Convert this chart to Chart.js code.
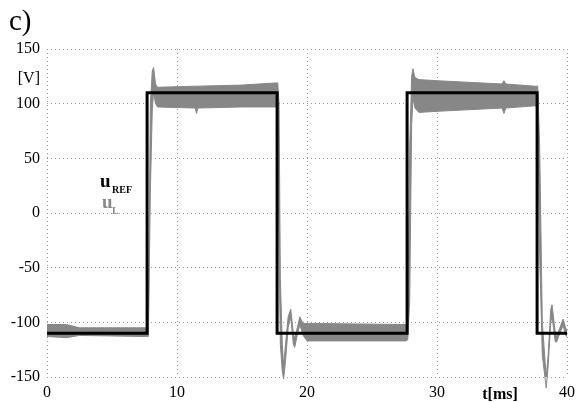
<!DOCTYPE html>
<html>
<head>
<meta charset="utf-8">
<script src="https://cdn.jsdelivr.net/npm/chart.js@4"></script>
<style>
    body { margin: 0; background: #fff; }
    #wrap { width: 583px; height: 402px; position: relative; }
</style>
</head>
<body>
<div id="wrap"><canvas id="scopeChart"></canvas></div>
<script>
// Reference voltage u_REF (square wave, V) vs time (ms)
const refTime  = [0, 7.7, 7.7, 17.7, 17.7, 27.7, 27.7, 37.7, 37.7, 40];
const refValue = [-110, -110, 110, 110, -110, -110, 110, 110, -110, -110];

// Measured voltage u_L, drawn as a noise band: upper and lower envelope (V)
const uLTime  = [0, 1.5, 2.5, 7.6, 7.75, 7.8, 7.95, 8.1, 8.2, 8.35, 8.5, 11.4, 11.5, 11.6, 15, 17.6,
                 17.75, 17.85, 17.95, 18.1, 18.2, 18.35, 18.55, 18.75, 18.95, 19.05, 19.25, 19.45, 19.7, 20,
                 27.6, 27.75, 27.9, 28.05, 28.15, 28.3, 28.6, 30, 35, 35.15, 35.3, 37.5,
                 37.75, 37.9, 38.1, 38.4, 38.55, 38.75, 38.85, 39.1, 39.2, 39.45, 39.7, 39.9, 40];
const uLUpper = [-102, -102, -105, -105, -104, -100, 100, 130, 133, 118, 115, 116, 116, 116, 117, 119,
                 119, 100, -60, -120, -140, -120, -95, -88, -110, -115, -105, -95, -101, -101,
                 -102, -102, 60, 125, 132, 124, 122, 121, 118, 121, 118, 116,
                 116, 60, -100, -150, -130, -88, -84, -110, -113, -105, -97, -105, -108];
const uLLower = [-113, -114, -112, -113, -113, -113, 20, 95, 110, 100, 97, 96, 91, 96, 97, 97,
                 95, -30, -120, -145, -152, -135, -105, -95, -120, -123, -112, -102, -112, -117,
                 -117, -116, -80, 80, 105, 96, 92, 93, 96, 91, 96, 98,
                 97, -40, -130, -160, -140, -100, -95, -118, -118, -110, -103, -112, -113];

const xTicks = [0, 10, 20, 30, 40];
const yTicks = [-150, -100, -50, 0, 50, 100, 150];

const SERIF = '"Liberation Serif", "DejaVu Serif", serif';
const GRAY = '#878787';

function toPoints(xs, ys) {
    return xs.map((x, i) => ({ x: x, y: ys[i] }));
}

// Texts that are not part of the axes: panel letter, units, legend
const annotations = {
    id: 'annotations',
    afterDraw(chart) {
        const ctx = chart.ctx;
        ctx.save();
        ctx.textBaseline = 'alphabetic';
        ctx.fillStyle = '#000';

        ctx.textAlign = 'left';
        ctx.font = '29px ' + SERIF;
        ctx.fillText('c)', 9, 30);

        ctx.textAlign = 'right';
        ctx.font = '16px ' + SERIF;
        ctx.fillText('[V]', 40, 83);

        ctx.textAlign = 'center';
        ctx.font = 'bold 16px ' + SERIF;
        ctx.fillText('t[ms]', 500, 399);

        ctx.textAlign = 'left';
        ctx.font = 'bold 19px ' + SERIF;
        ctx.fillText('u', 100, 187);
        ctx.font = 'bold 10px ' + SERIF;
        ctx.fillText('REF', 112, 193);

        ctx.fillStyle = GRAY;
        ctx.font = 'bold 19px ' + SERIF;
        ctx.fillText('u', 102, 208);
        ctx.font = 'bold 10px ' + SERIF;
        ctx.fillText('L', 112, 214);
        ctx.restore();
    }
};

const gridStyle = {
    color: '#999999',
    lineWidth: 1,
    drawTicks: false
};

new Chart(document.getElementById('scopeChart'), {
    type: 'scatter',
    data: {
        datasets: [
            {
                label: 'uL upper',
                data: toPoints(uLTime, uLUpper),
                showLine: true,
                borderColor: GRAY,
                borderWidth: 1,
                pointRadius: 0,
                tension: 0,
                fill: false,
                clip: false,
                order: 2
            },
            {
                label: 'uL lower',
                data: toPoints(uLTime, uLLower),
                showLine: true,
                borderColor: GRAY,
                backgroundColor: GRAY,
                borderWidth: 1,
                pointRadius: 0,
                tension: 0,
                fill: '-1',
                clip: false,
                order: 1
            },
            {
                label: 'uREF',
                data: toPoints(refTime, refValue),
                showLine: true,
                borderColor: '#000',
                borderWidth: 3,
                pointRadius: 0,
                tension: 0,
                fill: false,
                order: 0
            }
        ]
    },
    options: {
        responsive: true,
        maintainAspectRatio: false,
        animation: false,
        layout: { padding: { top: 49, right: 16, left: 0, bottom: 0 } },
        plugins: {
            legend: { display: false },
            tooltip: { enabled: false }
        },
        scales: {
            x: {
                type: 'linear',
                min: 0,
                max: 40,
                afterBuildTicks: s => { s.ticks = xTicks.map(v => ({ value: v })); },
                afterFit: s => { s.height = 25; },
                border: { display: false, dash: [1, 3] },
                grid: gridStyle,
                ticks: {
                    color: '#000',
                    padding: 6,
                    font: { family: SERIF, size: 16 }
                }
            },
            y: {
                type: 'linear',
                min: -150,
                max: 150,
                afterBuildTicks: s => { s.ticks = yTicks.map(v => ({ value: v })); },
                afterFit: s => { s.width = 47; },
                border: { display: false, dash: [1, 3] },
                grid: gridStyle,
                ticks: {
                    color: '#000',
                    padding: 7,
                    font: { family: SERIF, size: 16 }
                }
            }
        }
    },
    plugins: [annotations]
});
</script>
</body>
</html>
